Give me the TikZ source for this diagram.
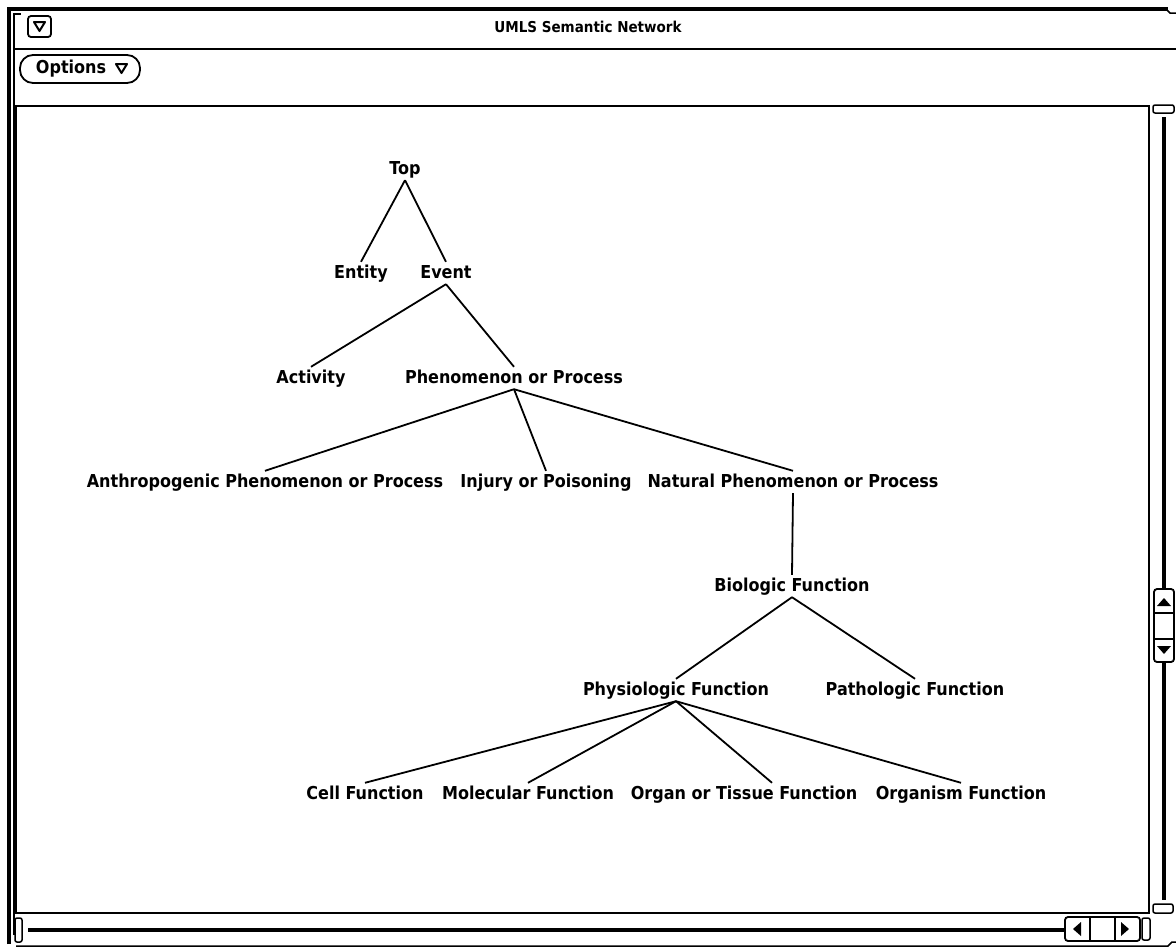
\documentclass[tikz,border=0pt]{standalone}
\usepackage{fontspec}
\setmainfont{DejaVu Sans Condensed}
\begin{document}
\begin{tikzpicture}[x=1pt,y=-1pt,
  term/.style={font=\bfseries\fontsize{17.8}{20}\selectfont, inner sep=0pt,
    text height=16pt, text depth=6pt, anchor=base},
  link/.style={line width=1.8pt},
  frame/.style={line width=1.5pt},
  btn/.style={line width=1.8pt, rounded corners=3pt},
  railbar/.style={line width=4pt}]

\useasboundingbox (0,0) rectangle (1176,948);

% Window frame
\draw[line width=4.5pt] (9,944) -- (9,9) -- (1168,9);
\draw[frame] (1166,9) -- (1170,13) -- (1176,13);
\draw[frame] (14,935) -- (14,14) -- (21,14);
\draw[frame] (14,49) -- (1176,49);
\draw[frame] (16,946) -- (1168,946) -- (1172,942) -- (1176,942);

% Title bar
\draw[btn] (28,16) rectangle (51,37);
\draw[line width=2pt, line join=round] (34,22) -- (45,22) -- (39.5,31) -- cycle;
\node[font=\bfseries\fontsize{15}{17}\selectfont] (title) at (588,27) {UMLS Semantic Network};

% Options button
\draw[line width=1.8pt, rounded corners=13pt] (20,55) rectangle (140,83);
\node[term, anchor=center, text height=13pt, text depth=4pt] (options) at (71,69) {Options};
\draw[line width=2pt, line join=round] (116,64) -- (127,64) -- (121.5,73) -- cycle;

% Canvas and scrollbars
\draw[frame] (16,106) rectangle (1149,913);
\draw[frame, rounded corners=2pt] (1153,105) rectangle (1174,113);
\draw[railbar] (1164,117) -- (1164,589);
\draw[railbar] (1164,662) -- (1164,900);
\draw[btn, fill=white] (1154,589) rectangle (1174,662);
\draw[frame] (1154,613) -- (1174,613) (1154,639) -- (1174,639);
\fill (1157,606) -- (1171,606) -- (1164,598) -- cycle;
\fill (1157,646) -- (1171,646) -- (1164,654) -- cycle;
\draw[frame, rounded corners=2pt] (1153,904) rectangle (1173,913);

\draw[frame, rounded corners=2pt] (15,918) rectangle (22,942);
\draw[railbar] (28,930) -- (1065,930);
\draw[btn, fill=white] (1065,917) rectangle (1140,941);
\draw[frame] (1090,917) -- (1090,941) (1115,917) -- (1115,941);
\fill (1073,929) -- (1081,922) -- (1081,936) -- cycle;
\fill (1129,929) -- (1121,922) -- (1121,936) -- cycle;
\draw[frame, rounded corners=2pt] (1142,918) rectangle (1150,940);

% Tree
\node[term] (top) at (405,174) {Top};
\node[term] (entity) at (361,278) {Entity};
\node[term] (event) at (446,278) {Event};
\node[term] (activity) at (311,383) {Activity};
\node[term] (phenom) at (514,383) {Phenomenon or Process};
\node[term] (anthro) at (265,487) {Anthropogenic Phenomenon or Process};
\node[term] (injury) at (546,487) {Injury or Poisoning};
\node[term] (natural) at (793,487) {Natural Phenomenon or Process};
\node[term] (biologic) at (792,591) {Biologic Function};
\node[term] (physio) at (676,695) {Physiologic Function};
\node[term] (patho) at (915,695) {Pathologic Function};
\node[term] (cell) at (365,799) {Cell Function};
\node[term] (molec) at (528,799) {Molecular Function};
\node[term] (organ) at (744,799) {Organ or Tissue Function};
\node[term] (organism) at (961,799) {Organism Function};

\draw[link] (top.south) -- (entity.north);
\draw[link] (top.south) -- (event.north);
\draw[link] (event.south) -- (activity.north);
\draw[link] (event.south) -- (phenom.north);
\draw[link] (phenom.south) -- (anthro.north);
\draw[link] (phenom.south) -- (injury.north);
\draw[link] (phenom.south) -- (natural.north);
\draw[link] (natural.south) -- (biologic.north);
\draw[link] (biologic.south) -- (physio.north);
\draw[link] (biologic.south) -- (patho.north);
\draw[link] (physio.south) -- (cell.north);
\draw[link] (physio.south) -- (molec.north);
\draw[link] (physio.south) -- ([xshift=28pt]organ.north);
\draw[link] (physio.south) -- (organism.north);

\end{tikzpicture}
\end{document}
